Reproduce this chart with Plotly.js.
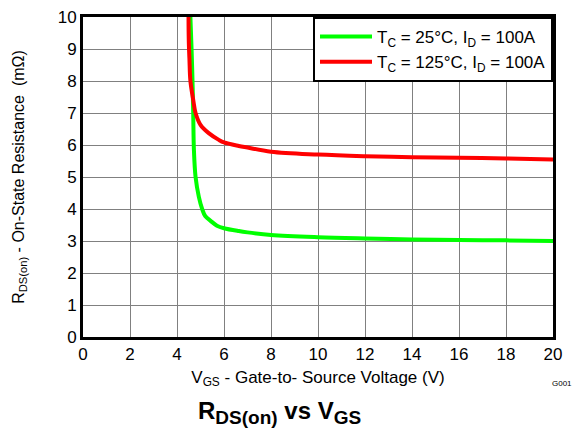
<!DOCTYPE html>
<html><head><meta charset="utf-8">
<script src="https://cdn.plot.ly/plotly-3.0.1.min.js"></script>
<style>html,body{margin:0;padding:0;background:#fff}#chart{width:576px;height:428px}</style>
</head><body><div id="chart"></div>
<script>
const vgs25 = [4.57,4.62,4.66,4.69,4.72,4.79,4.93,5.07,5.2,5.43,5.7,6,6.63,7,8,10,12,14,16,18,20];
const rds25 = [10,9,8,7,5.84,5,4.38,4.0,3.78,3.63,3.48,3.4,3.31,3.27,3.19,3.12,3.08,3.05,3.03,3.02,3.0];
const vgs125 = [4.49,4.5,4.53,4.57,4.69,4.79,5.0,5.35,5.78,6,6.63,7,8,10,12,14,16,18,20];
const rds125 = [10,9.3,8.66,8.0,7.41,7.0,6.63,6.37,6.16,6.08,5.97,5.92,5.79,5.7,5.65,5.62,5.6,5.58,5.55];
const name25 = "T<sub>C</sub> = 25°C, I<sub>D</sub> = 100A";
const name125 = "T<sub>C</sub> = 125°C, I<sub>D</sub> = 100A";
const xTicks = [0,2,4,6,8,10,12,14,16,18,20];
const yTicks = [0,1,2,3,4,5,6,7,8,9,10];

const font = "Liberation Sans, Arial, sans-serif";
const traces = [
  {x: vgs25, y: rds25, name: name25, mode: "lines", line: {color: "#00ff00", width: 4, shape: "spline", smoothing: 1}},
  {x: vgs125, y: rds125, name: name125, mode: "lines", line: {color: "#ff0000", width: 4, shape: "spline", smoothing: 1}}
];
const layout = {
  width: 576, height: 428,
  margin: {l: 83, r: 23, t: 17, b: 91},
  paper_bgcolor: "#fff", plot_bgcolor: "#fff",
  font: {family: font, color: "#000", size: 17},
  showlegend: true,
  legend: {x: 1, y: 1, xanchor: "right", yanchor: "top", bgcolor: "#fff", bordercolor: "#000", borderwidth: 2,
           font: {size: 17}, tracegroupgap: 0, itemwidth: 52},
  xaxis: {range: [0, 20], tickvals: xTicks, ticks: "", showgrid: true, gridcolor: "#808080", gridwidth: 1,
          showline: true, linecolor: "#000", linewidth: 3, mirror: true, zeroline: false,
          tickfont: {size: 17},
          title: {text: "V<sub>GS</sub> - Gate-to- Source Voltage (V)", font: {size: 17}, standoff: 8}},
  yaxis: {range: [0, 10], tickvals: yTicks, ticks: "", showgrid: true, gridcolor: "#808080", gridwidth: 1,
          showline: true, linecolor: "#000", linewidth: 3, mirror: true, zeroline: false,
          tickfont: {size: 17},
          title: {text: "R<sub>DS(on)</sub> - On-State Resistance  (mΩ)", font: {size: 16}, standoff: 30}},
  annotations: [
    {text: "<b>R<sub><span style='font-size:19px'>DS(on)</span></sub> vs V<sub><span style='font-size:19px'>GS</span></sub></b>", xref: "paper", yref: "paper",
     x: (279-83)/470, y: -0.235, xanchor: "center", yanchor: "middle", showarrow: false, font: {size: 24}},
    {text: "G001", xref: "paper", yref: "paper", x: (576-2-83)/470, y: -0.145, xanchor: "right", yanchor: "middle",
     showarrow: false, font: {size: 8}}
  ]
};
Plotly.newPlot("chart", traces, layout, {displayModeBar: false, staticPlot: true});
</script></body></html>
